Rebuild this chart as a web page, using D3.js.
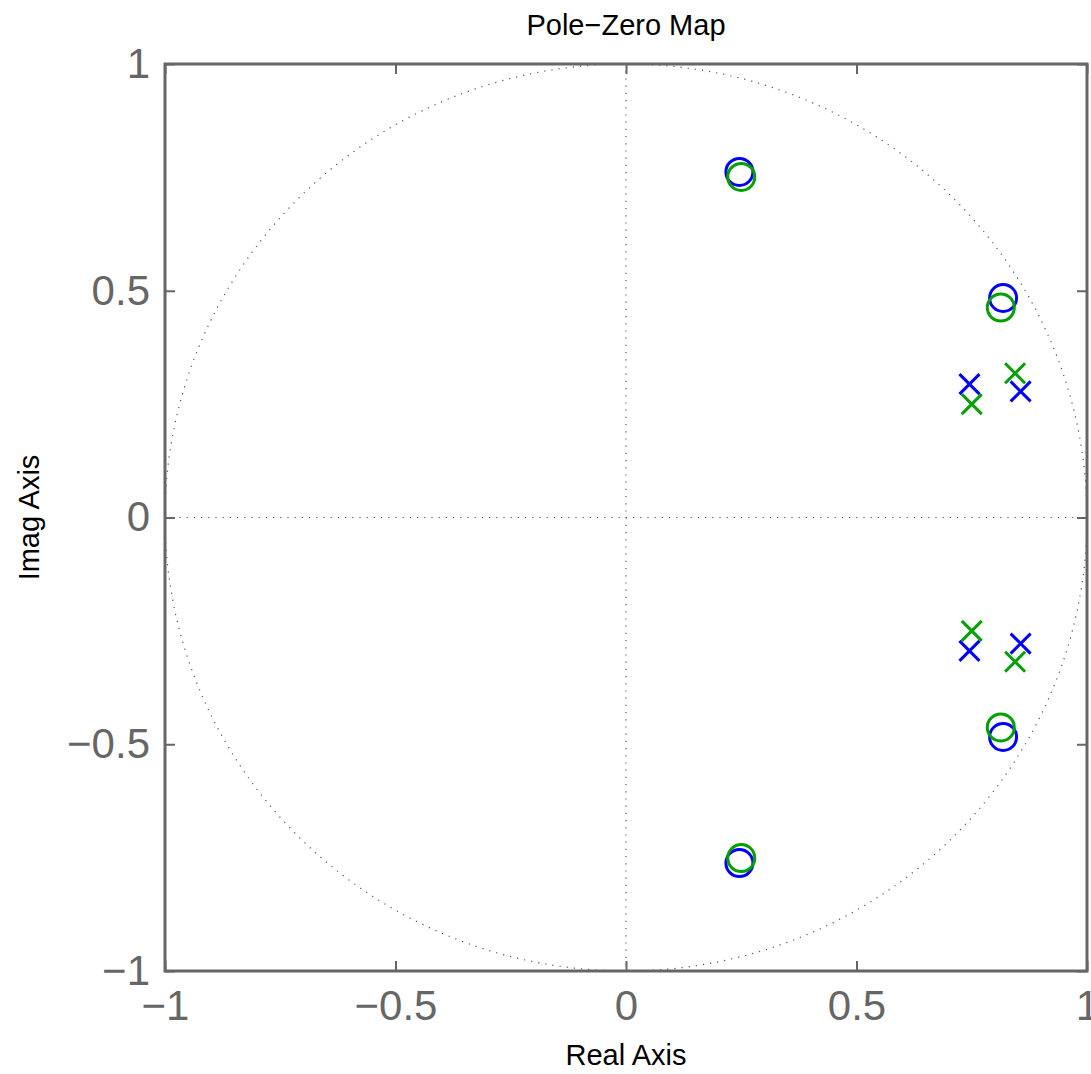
<!DOCTYPE html>
<html>
<head>
<meta charset="utf-8">
<script src="https://cdn.jsdelivr.net/npm/d3@7"></script>
<style>
    body { margin: 0; background: #fff; }
    svg { display: block; font-family: "Liberation Sans", Arial, sans-serif; }
</style>
</head>
<body>
<div id="chart"></div>
<script>
// zeros (o) and poles (x) of the two systems
const blueZerosRe = [0.246, 0.246, 0.818, 0.818];
const blueZerosIm = [0.762, -0.762, 0.484, -0.484];
const greenZerosRe = [0.250, 0.250, 0.813, 0.813];
const greenZerosIm = [0.751, -0.751, 0.463, -0.463];
const bluePolesRe = [0.745, 0.745, 0.856, 0.856];
const bluePolesIm = [0.294, -0.294, 0.278, -0.278];
const greenPolesRe = [0.750, 0.750, 0.844, 0.844];
const greenPolesIm = [0.250, -0.250, 0.318, -0.318];
const xTicks = [-1, -0.5, 0, 0.5, 1];
const yTicks = [-1, -0.5, 0, 0.5, 1];

const width = 1091, height = 1074;
const margin = { left: 165, top: 64, right: 4, bottom: 103 };
const innerW = width - margin.left - margin.right;
const innerH = height - margin.top - margin.bottom;

const x = d3.scaleLinear().domain([-1, 1]).range([0, innerW]);
const y = d3.scaleLinear().domain([-1, 1]).range([innerH, 0]);

const fmt = d => d === 0 ? "0" : String(d).replace("-", "\u2212");
const axisColor = "#666";

const svg = d3.select("#chart").append("svg")
    .attr("width", width)
    .attr("height", height);

svg.append("defs").append("clipPath").attr("id", "plot-clip")
    .append("rect").attr("width", innerW).attr("height", innerH);

const g = svg.append("g").attr("transform", `translate(${margin.left},${margin.top})`);

// dotted unit circle and zero lines
const grid = g.append("g").attr("clip-path", "url(#plot-clip)");
const circlePts = d3.range(0, 361, 1).map(a => [Math.cos(a * Math.PI / 180), Math.sin(a * Math.PI / 180)]);
grid.append("path")
    .attr("d", d3.line().x(d => x(d[0])).y(d => y(d[1]))(circlePts))
    .attr("fill", "none")
    .attr("stroke", "#555")
    .attr("stroke-width", 1.2)
    .attr("stroke-dasharray", "1.2,6");
grid.append("line")
    .attr("x1", x(0)).attr("x2", x(0)).attr("y1", 0).attr("y2", innerH)
    .attr("stroke", "#555").attr("stroke-width", 1.2).attr("stroke-dasharray", "1.2,6");
grid.append("line")
    .attr("x1", 0).attr("x2", innerW).attr("y1", y(0)).attr("y2", y(0))
    .attr("stroke", "#555").attr("stroke-width", 1.2).attr("stroke-dasharray", "1.2,6");

// axes with inward ticks on all four sides
function styleAxis(sel) {
    sel.select(".domain").remove();
    sel.selectAll(".tick line").attr("stroke", axisColor).attr("stroke-width", 2);
    sel.selectAll(".tick text").attr("fill", axisColor).attr("font-size", 42);
}

g.append("g").attr("transform", `translate(0,${innerH})`)
    .call(d3.axisBottom(x).tickValues(xTicks).tickFormat(fmt).tickSizeInner(-10).tickPadding(19))
    .call(styleAxis);
g.append("g")
    .call(d3.axisLeft(y).tickValues(yTicks).tickFormat(fmt).tickSizeInner(-10).tickPadding(15))
    .call(styleAxis);
g.append("g")
    .call(d3.axisTop(x).tickValues(xTicks).tickFormat("").tickSizeInner(-10))
    .call(styleAxis);
g.append("g").attr("transform", `translate(${innerW},0)`)
    .call(d3.axisRight(y).tickValues(yTicks).tickFormat("").tickSizeInner(-10))
    .call(styleAxis);

g.append("rect")
    .attr("width", innerW).attr("height", innerH)
    .attr("fill", "none")
    .attr("stroke", axisColor)
    .attr("stroke-width", 3);

// markers
function drawZeros(re, im, color) {
    g.append("g").selectAll("circle")
        .data(re.map((r, i) => [r, im[i]]))
        .join("circle")
        .attr("cx", d => x(d[0]))
        .attr("cy", d => y(d[1]))
        .attr("r", 13.5)
        .attr("fill", "none")
        .attr("stroke", color)
        .attr("stroke-width", 3);
}

function drawPoles(re, im, color) {
    const s = 10;
    g.append("g").selectAll("path")
        .data(re.map((r, i) => [r, im[i]]))
        .join("path")
        .attr("d", d => {
            const cx = x(d[0]), cy = y(d[1]);
            return `M${cx - s},${cy - s}L${cx + s},${cy + s}M${cx - s},${cy + s}L${cx + s},${cy - s}`;
        })
        .attr("fill", "none")
        .attr("stroke", color)
        .attr("stroke-width", 3);
}

drawPoles(bluePolesRe, bluePolesIm, "#0000ff");
drawZeros(blueZerosRe, blueZerosIm, "#0000ff");
drawPoles(greenPolesRe, greenPolesIm, "#00a000");
drawZeros(greenZerosRe, greenZerosIm, "#00a000");

// titles
svg.append("text")
    .attr("x", margin.left + innerW / 2)
    .attr("y", 35)
    .attr("text-anchor", "middle")
    .attr("font-size", 29)
    .text("Pole\u2212Zero Map");

svg.append("text")
    .attr("x", margin.left + innerW / 2)
    .attr("y", 1065)
    .attr("text-anchor", "middle")
    .attr("font-size", 29)
    .text("Real Axis");

svg.append("text")
    .attr("transform", `translate(39,${margin.top + innerH / 2}) rotate(-90)`)
    .attr("text-anchor", "middle")
    .attr("font-size", 29)
    .text("Imag Axis");
</script>
</body>
</html>
